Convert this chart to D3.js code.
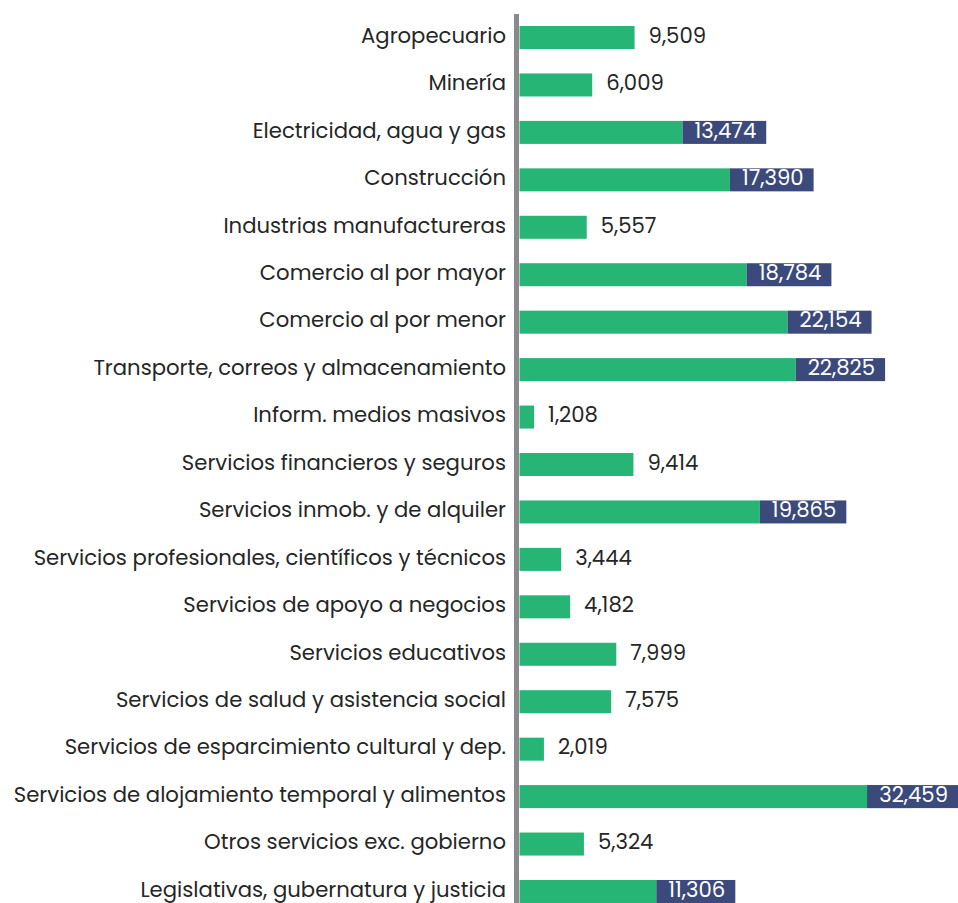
<!DOCTYPE html>
<html>
<head>
<meta charset="utf-8">
<script src="https://cdn.jsdelivr.net/npm/d3@7/dist/d3.min.js"></script>
<style>
  html, body { margin: 0; padding: 0; background: #ffffff; }
  svg { display: block; }
  text { font-family: "Poppins", "Open Sans", sans-serif; }
</style>
</head>
<body>
<svg id="chart" width="958" height="903"></svg>
<script>
const categories = [
  "Agropecuario",
  "Minería",
  "Electricidad, agua y gas",
  "Construcción",
  "Industrias manufactureras",
  "Comercio al por mayor",
  "Comercio al por menor",
  "Transporte, correos y almacenamiento",
  "Inform. medios masivos",
  "Servicios financieros y seguros",
  "Servicios inmob. y de alquiler",
  "Servicios profesionales, científicos y técnicos",
  "Servicios de apoyo a negocios",
  "Servicios educativos",
  "Servicios de salud y asistencia social",
  "Servicios de esparcimiento cultural y dep.",
  "Servicios de alojamiento temporal y alimentos",
  "Otros servicios exc. gobierno",
  "Legislativas, gubernatura y justicia"
];
const values = [9509, 6009, 13474, 17390, 5557, 18784, 22154, 22825, 1208, 9414, 19865, 3444, 4182, 7999, 7575, 2019, 32459, 5324, 11306];
const insideThreshold = 10000;

const W = 958, H = 903;
const FS = 21.2;
const svg = d3.select("#chart");
const fmt = d3.format(",");

const x = d3.scaleLinear().domain([0, 36000]).range([519.5, 955.1]);
const y = d3.scaleBand().domain(categories).range([13.8, 915.2]).paddingInner(0.515).paddingOuter(0.2575);

const data = categories.map((c, i) => ({ cat: c, val: values[i] }));

// category labels
svg.append("g").selectAll("text").data(data).join("text")
  .attr("x", 506)
  .attr("y", d => y(d.cat) + y.bandwidth() / 2)
  .attr("dy", "0.25em")
  .attr("text-anchor", "end")
  .attr("font-size", FS)
  .attr("fill", "#262626")
  .text(d => d.cat);

// bars
svg.append("g").selectAll("rect").data(data).join("rect")
  .attr("x", x(0))
  .attr("y", d => y(d.cat))
  .attr("width", d => x(d.val) - x(0))
  .attr("height", y.bandwidth())
  .attr("fill", "#26b574");

// value labels
const lab = svg.append("g").selectAll("g").data(data).join("g");
lab.each(function(d) {
  const g = d3.select(this);
  const cy = y(d.cat) + y.bandwidth() / 2;
  const end = x(d.val);
  if (d.val >= insideThreshold) {
    const rect = g.append("rect").attr("fill", "#3c4a7b");
    const t = g.append("text")
      .attr("y", cy).attr("dy", "0.25em")
      .attr("font-size", FS).attr("fill", "#ffffff")
      .text(fmt(d.val));
    const tw = t.node().getComputedTextLength();
    const bw = tw + 22;
    const bx = Math.min(end, W - bw);
    rect.attr("x", bx).attr("y", y(d.cat)).attr("width", bw).attr("height", y.bandwidth());
    t.attr("x", bx + bw - 10).attr("text-anchor", "end");
  } else {
    g.append("text")
      .attr("x", end + 14)
      .attr("y", cy).attr("dy", "0.25em")
      .attr("font-size", FS).attr("fill", "#262626")
      .text(fmt(d.val));
  }
});

// axis line
svg.append("rect")
  .attr("x", 514).attr("y", 14)
  .attr("width", 5).attr("height", H - 14)
  .attr("fill", "#8a8a8e");
</script>
</body>
</html>
